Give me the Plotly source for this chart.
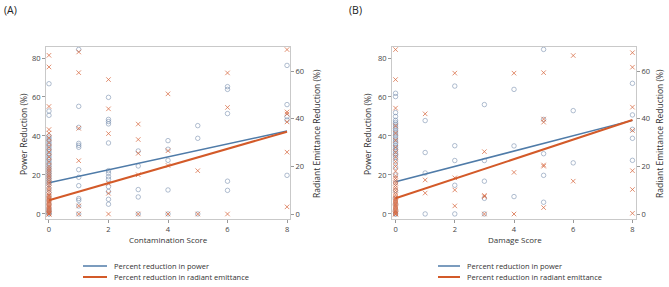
import plotly.graph_objects as go

W, H = 669, 287

# ---------------- Panel A: Contamination Score ----------------
a_pow_x = [0]*39 + [1]*13 + [2]*13 + [3]*5 + [4]*5 + [5]*3 + [6]*5 + [8]*5
a_pow_y = [0, 0, 1, 2, 3, 5, 7, 9, 11, 13, 15, 16, 17, 18, 19, 20, 21, 22, 23, 24, 25,
           26, 27, 28, 29, 30, 31, 32, 33, 34, 35, 36, 37, 38, 39, 40, 50.6, 52.8, 66.8,
           84.4, 55.2, 44.4, 36.2, 35.2, 34.2, 22.7, 18.8, 14.5, 7.9, 7.0, 4.1, 0,
           59.8, 48.5, 47.4, 46.2, 36.4, 22.2, 20.9, 19.1, 17.8, 14.0, 11.5, 7.5, 5.0,
           32.3, 24.6, 12.5, 8.7, 0,
           37.6, 33.2, 27.5, 12.3, 0,
           45.3, 38.8, 0,
           65.3, 63.9, 51.5, 16.8, 12.1,
           76.2, 56.1, 49.9, 48.2, 19.8]

a_rad_x = [0]*42 + [1]*6 + [2]*6 + [3]*5 + [4]*4 + [5]*2 + [6]*3 + [8]*6
a_rad_y = [0, 0, 0, 0.5, 1, 1.5, 2, 2.5, 3, 3.5, 4, 4.5, 5, 5.5, 6, 6.5, 7, 7.5, 8, 9,
           10, 11, 12, 13, 14, 15, 16, 17, 18, 19, 20, 22, 24, 26, 28, 30, 32, 34, 35.5,
           45.2, 61.8, 66.7,
           68.1, 59.4, 36.0, 22.4, 3.4, 0,
           56.5, 44.2, 33.8, 12.9, 8.7, 0,
           37.8, 31.3, 25.5, 16.5, 0,
           50.5, 26.6, 20.4, 0,
           18.2, 0,
           59.3, 44.8, 0,
           69.1, 42.9, 42.0, 38.7, 26.0, 3.0]

a_fit_x = [0, 8]
a_fit_pow = [16.0, 42.5]
a_fit_rad = [5.8, 34.6]

# ---------------- Panel B: Damage Score ----------------
b_pow_x = [0]*34 + [1]*4 + [2]*5 + [3]*5 + [4]*3 + [5]*5 + [6]*2 + [8]*5
b_pow_y = [0, 0, 2, 5, 8, 12, 16, 20, 24, 27, 29, 30, 31, 32, 33, 34, 35, 36, 37, 38,
           39, 40, 41, 42, 43, 44, 45, 46, 47, 48, 50, 52, 60.2, 61.9,
           47.9, 31.5, 21.0, 0,
           65.6, 35.0, 27.4, 14.7, 0,
           56.1, 27.4, 16.8, 8.0, 0,
           63.9, 34.9, 8.9,
           84.4, 48.5, 30.9, 19.8, 6.0,
           53.0, 26.2,
           67.0, 50.8, 38.8, 27.5, 43.4]

b_rad_x = [0]*38 + [1]*3 + [2]*4 + [3]*4 + [4]*3 + [5]*6 + [6]*2 + [8]*7
b_rad_y = [0, 0, 0, 0.5, 1, 1.5, 2, 2.5, 3, 3.5, 4, 4.5, 5, 5.5, 6, 6.5, 7, 8, 9, 10,
           11, 12, 13, 14, 15, 16, 18, 20, 22, 24, 26, 28, 31, 34, 37,
           44.5, 56.5, 69.1,
           42.1, 14.3, 8.8,
           59.2, 15.2, 10.1, 3.4,
           26.2, 7.8, 7.3, 0,
           59.2, 17.5, 0,
           59.4, 39.9, 38.6, 20.6, 20.1, 2.7,
           66.6, 13.8,
           67.8, 61.7, 44.9, 35.1, 18.2, 10.3, 0.3]

b_fit_x = [0, 8]
b_fit_pow = [16.5, 48.0]
b_fit_rad = [6.6, 39.5]

x_ticks = [0, 2, 4, 6, 8]
left_ticks = [0, 20, 40, 60, 80]
right_ticks = [0, 20, 40, 60]

x_titles = ["Contamination Score", "Damage Score"]
left_title = "Power Reduction (%)"
right_title = "Radiant Emittance Reduction (%)"
panel_labels = ["(A)", "(B)"]
legend_items = ["Percent reduction in power", "Percent reduction in radiant emittance"]

BLUE = "#4F7BA8"
ORANGE = "#D35A29"
CIRC = "rgba(105,130,165,0.65)"
XCOL = "rgba(215,105,65,0.75)"
FONT = "Open Sans"
GRID = "#c9c9c9"

fig = go.Figure()

def add_panel(px, py, rx, ry, fx, fp, fr, xa, ya_l, ya_r):
    fig.add_trace(go.Scatter(x=px, y=py, mode="markers", xaxis=xa, yaxis=ya_l,
                             marker=dict(symbol="circle-open", size=4.5, color=CIRC,
                                         line=dict(width=0.8, color=CIRC)),
                             showlegend=False, hoverinfo="x+y"))
    fig.add_trace(go.Scatter(x=rx, y=ry, mode="markers", xaxis=xa, yaxis=ya_r,
                             marker=dict(symbol="x-thin-open", size=4.5, color=XCOL,
                                         line=dict(width=1, color=XCOL)),
                             showlegend=False, hoverinfo="x+y"))
    fig.add_trace(go.Scatter(x=fx, y=fp, mode="lines", xaxis=xa, yaxis=ya_l,
                             line=dict(color=BLUE, width=1.5),
                             name=legend_items[0], showlegend=False))
    fig.add_trace(go.Scatter(x=fx, y=fr, mode="lines", xaxis=xa, yaxis=ya_r,
                             line=dict(color=ORANGE, width=2),
                             name=legend_items[1], showlegend=False))

add_panel(a_pow_x, a_pow_y, a_rad_x, a_rad_y, a_fit_x, a_fit_pow, a_fit_rad, "x", "y", "y2")
add_panel(b_pow_x, b_pow_y, b_rad_x, b_rad_y, b_fit_x, b_fit_pow, b_fit_rad, "x2", "y3", "y4")

tickfont = dict(family=FONT, size=7.5, color="#444")

def px2x(p):
    return p / W

def px2y(p):
    return 1 - p / H

ydom = [px2y(219), px2y(46.5)]
xcommon = dict(showgrid=False, zeroline=False, showline=True, linecolor=GRID, linewidth=1,
               mirror=True, ticks="outside", ticklen=3, tickcolor="#999", tickvals=x_ticks,
               tickfont=tickfont)
lcommon = dict(showgrid=False, zeroline=False, showline=True, linecolor=GRID, linewidth=1,
               ticks="outside", ticklen=3, tickcolor="#999", tickvals=left_ticks,
               tickfont=tickfont, range=[-2.6, 85.9])
rcommon = dict(showgrid=False, zeroline=False, showline=True, linecolor=GRID, linewidth=1,
               ticks="outside", ticklen=3, tickcolor="#999", tickvals=right_ticks,
               tickfont=tickfont, range=[-2.1, 70.4], side="right")

fig.update_layout(
    width=W, height=H, margin=dict(l=0, r=0, t=0, b=0),
    paper_bgcolor="white", plot_bgcolor="white",
    xaxis=dict(domain=[px2x(46), px2x(290)], range=[-0.1, 8.1], anchor="y", **xcommon),
    yaxis=dict(domain=ydom, anchor="x", **lcommon),
    yaxis2=dict(overlaying="y", anchor="x", **rcommon),
    xaxis2=dict(domain=[px2x(392), px2x(636)], range=[-0.12, 8.12], anchor="y3", **xcommon),
    yaxis3=dict(domain=ydom, anchor="x2", **lcommon),
    yaxis4=dict(overlaying="y3", anchor="x2", **rcommon),
)

def ann(text, x, y, size, angle=0, anchor="center", color="#333"):
    fig.add_annotation(text=text, x=px2x(x), y=px2y(y), xref="paper", yref="paper",
                       xanchor=anchor, yanchor="middle", showarrow=False, textangle=angle,
                       font=dict(family=FONT, size=size, color=color))

# panel labels
ann(panel_labels[0], 2, 10, 10.5, anchor="left", color="#222")
ann(panel_labels[1], 347, 10, 10.5, anchor="left", color="#222")

# axis titles
ann(x_titles[0], 168, 239, 8)
ann(x_titles[1], 515, 239, 8)
ann(left_title, 24, 134, 8.5, angle=-90)
ann(left_title, 368, 134, 8.5, angle=-90)
ann(right_title, 317, 134, 8.5, angle=-90)
ann(right_title, 660, 134, 8.5, angle=-90)

# legends drawn below each panel
legend_colors = [BLUE, ORANGE]
legend_widths = [1.5, 2]
for x0, x1, tx in [(83, 107, 112), (438, 460, 465)]:
    for i, yy in enumerate([266, 277]):
        fig.add_shape(type="line", xref="paper", yref="paper",
                      x0=px2x(x0), x1=px2x(x1), y0=px2y(yy), y1=px2y(yy),
                      line=dict(color=legend_colors[i], width=legend_widths[i]))
        ann(legend_items[i], tx, yy, 7.5, anchor="left")

fig.write_html("out.html", config={"displayModeBar": False},
               post_script="document.body.style.margin='0';document.body.style.overflow='hidden';")
